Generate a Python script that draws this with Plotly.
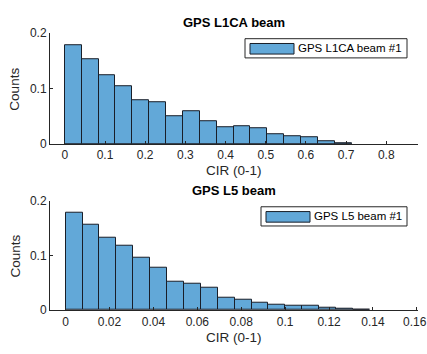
import plotly.graph_objects as go

# Normalised histogram of CIR for the two GPS beams
l1ca_edges = [0, 0.042, 0.084, 0.126, 0.168, 0.21, 0.252, 0.294, 0.336, 0.378,
              0.42, 0.462, 0.504, 0.546, 0.588, 0.63, 0.672, 0.714]
l1ca_counts = [0.1775, 0.153, 0.125, 0.1046, 0.0798, 0.0757, 0.0497, 0.059, 0.041,
               0.0295, 0.033, 0.0277, 0.0173, 0.0145, 0.0116, 0.0052, 0.0021]

l5_edges = [0, 0.0077, 0.0154, 0.0231, 0.0308, 0.0385, 0.0462, 0.0539, 0.0616, 0.0693,
            0.077, 0.0847, 0.0924, 0.1001, 0.1078, 0.1155, 0.1232, 0.1309, 0.1386]
l5_counts = [0.178, 0.157, 0.132, 0.118, 0.0953, 0.0784, 0.0526, 0.0491, 0.0415,
             0.0234, 0.0199, 0.0129, 0.0094, 0.0076, 0.0076, 0.0053, 0.0023, 0.0018]

l1ca_ticks = [0, 0.1, 0.2, 0.3, 0.4, 0.5, 0.6, 0.7, 0.8]
l1ca_ticklabels = ["0", "0.1", "0.2", "0.3", "0.4", "0.5", "0.6", "0.7", "0.8"]
l5_ticks = [0, 0.02, 0.04, 0.06, 0.08, 0.1, 0.12, 0.14, 0.16]
l5_ticklabels = ["0", "0.02", "0.04", "0.06", "0.08", "0.1", "0.12", "0.14", "0.16"]
y_ticks = [0, 0.1, 0.2]
y_ticklabels = ["0", "0.1", "0.2"]

titles = ["GPS L1CA beam", "GPS L5 beam"]
legend_names = ["GPS L1CA beam #1", "GPS L5 beam #1"]

W, H = 427, 354
FILL = "rgb(98,168,216)"
EDGE = "rgb(25,30,40)"
AX = "#262626"
FONT = "Liberation Sans, Arial, sans-serif"


def px_x(p):
    return p / W


def px_y(p):
    return 1 - p / H


fig = go.Figure()

panels = [
    dict(edges=l1ca_edges, counts=l1ca_counts, ticks=l1ca_ticks, labels=l1ca_ticklabels,
         xr=[-0.037, 0.879], top=27.3, bot=142.7, xa="x", ya="y",
         leg=(245, 407, 33, 53)),
    dict(edges=l5_edges, counts=l5_counts, ticks=l5_ticks, labels=l5_ticklabels,
         xr=[-0.0071, 0.1605], top=201.7, bot=315.7, xa="x2", ya="y2",
         leg=(261, 407, 208, 228)),
]

left_px, right_px = 50, 418
annotations = []
shapes = []

for i, p in enumerate(panels):
    lefts = p["edges"][:-1]
    widths = [b - a for a, b in zip(p["edges"][:-1], p["edges"][1:])]
    fig.add_trace(go.Bar(
        x=lefts, y=p["counts"], width=widths, offset=0,
        marker=dict(color=FILL, line=dict(color=EDGE, width=1)),
        name=legend_names[i], showlegend=False,
        xaxis=p["xa"], yaxis=p["ya"],
    ))

    # the last tick label sits against the right edge of the page; it is
    # written as an edge-anchored annotation so it never spills past the div
    labels = list(p["labels"])
    edge_label = None
    if p["ticks"][-1] > p["xr"][1] - 0.01 * (p["xr"][1] - p["xr"][0]):
        edge_label = labels[-1]
        labels[-1] = ""

    axis_common = dict(
        showline=True, linecolor=AX, linewidth=1, mirror=False,
        ticks="inside", ticklen=3, tickcolor=AX, tickwidth=1,
        showgrid=False, zeroline=False,
        tickfont=dict(family=FONT, size=12, color=AX),
    )
    xname = "xaxis" if i == 0 else "xaxis2"
    yname = "yaxis" if i == 0 else "yaxis2"
    fig.layout[xname] = dict(
        axis_common, domain=[px_x(left_px), px_x(right_px)], range=p["xr"],
        tickvals=p["ticks"], ticktext=labels, anchor=p["ya"],
    )
    fig.layout[yname] = dict(
        axis_common, domain=[px_y(p["bot"]), px_y(p["top"])], range=[0, 0.2],
        tickvals=y_ticks, ticktext=y_ticklabels, anchor=p["xa"],
    )

    if edge_label is not None:
        annotations.append(dict(
            text=edge_label, x=1.0, y=px_y(p["bot"] + 12.5), xshift=1,
            xref="paper", yref="paper", xanchor="right", yanchor="middle",
            showarrow=False, borderpad=0,
            font=dict(family=FONT, size=12, color=AX),
        ))

    cx = (left_px + right_px) / 2
    # panel title
    annotations.append(dict(
        text="<b>%s</b>" % titles[i], x=px_x(cx), y=px_y(p["top"] - 11),
        xref="paper", yref="paper", xanchor="center", yanchor="middle",
        showarrow=False, font=dict(family=FONT, size=13, color="black"),
    ))
    # x label
    annotations.append(dict(
        text="CIR (0-1)", x=px_x(cx), y=px_y(p["bot"] + 28),
        xref="paper", yref="paper", xanchor="center", yanchor="middle",
        showarrow=False, font=dict(family=FONT, size=13.5, color=AX),
    ))
    # y label
    annotations.append(dict(
        text="Counts", x=px_x(15), y=px_y((p["top"] + p["bot"]) / 2),
        xref="paper", yref="paper", xanchor="center", yanchor="middle",
        textangle=-90, showarrow=False, font=dict(family=FONT, size=13.5, color=AX),
    ))

    # legend box with a wide patch swatch
    x0, x1, y0, y1 = p["leg"]
    shapes.append(dict(
        type="rect", xref="paper", yref="paper",
        x0=px_x(x0), x1=px_x(x1), y0=px_y(y1), y1=px_y(y0),
        line=dict(color=AX, width=1), fillcolor="white",
    ))
    shapes.append(dict(
        type="rect", xref="paper", yref="paper",
        x0=px_x(x0 + 5), x1=px_x(x0 + 49), y0=px_y(y1 - 4), y1=px_y(y0 + 5),
        line=dict(color=EDGE, width=1), fillcolor=FILL,
    ))
    annotations.append(dict(
        text=legend_names[i], x=px_x(x0 + 51), y=px_y((y0 + y1) / 2),
        xref="paper", yref="paper", xanchor="left", yanchor="middle",
        showarrow=False, font=dict(family=FONT, size=11.5, color="black"),
    ))

fig.update_layout(
    width=W, height=H, margin=dict(l=0, r=0, t=0, b=0),
    paper_bgcolor="white", plot_bgcolor="white",
    bargap=0, showlegend=False,
    annotations=annotations, shapes=shapes,
)

fig.write_html("out.html")
